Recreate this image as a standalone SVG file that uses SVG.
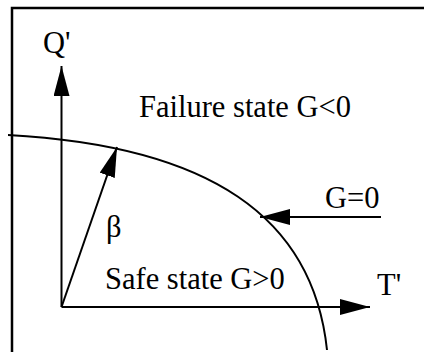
<svg xmlns="http://www.w3.org/2000/svg" width="424" height="352" viewBox="0 0 424 352">
<style>
.ln{fill:none;stroke:#000;stroke-width:2}
.fr{fill:none;stroke:#000;stroke-width:2.5}
.tx{font-family:"Liberation Serif","Times New Roman",serif;font-size:30.5px;fill:#000}
</style>
<defs>
<marker id="ah" markerUnits="userSpaceOnUse" markerWidth="30" markerHeight="16" refX="30" refY="8" orient="auto" viewBox="0 0 30 16">
<path d="M0,0 L30,8 L0,16 z" fill="#000"/>
</marker>
</defs>
<g id="frame"><path class="fr" d="M12,352 V8 H424"/></g>
<g id="limit-curve"><path class="ln" d="M8,135 C210,146 313,217 327,350"/></g>
<g id="connectors">
<path id="q-axis" class="ln" d="M61.5,307 V66" marker-end="url(#ah)"/>
<path id="t-axis" class="ln" d="M61.5,307 H370" marker-end="url(#ah)"/>
<path id="beta-arrow" class="ln" d="M61.5,307 L117,147" marker-end="url(#ah)"/>
<path id="g0-arrow" class="ln" d="M381,217 H260" marker-end="url(#ah)"/>
</g>
<g id="label-q"><text class="tx" x="43" y="53">Q'</text></g>
<g id="label-t"><text class="tx" x="377" y="295">T'</text></g>
<g id="label-failure"><text class="tx" x="139" y="117">Failure state G&lt;0</text></g>
<g id="label-safe"><text class="tx" x="105" y="289">Safe state G&gt;0</text></g>
<g id="label-beta"><text class="tx" x="106" y="237">β</text></g>
<g id="label-g0"><text class="tx" x="325" y="208">G=0</text></g>
</svg>
